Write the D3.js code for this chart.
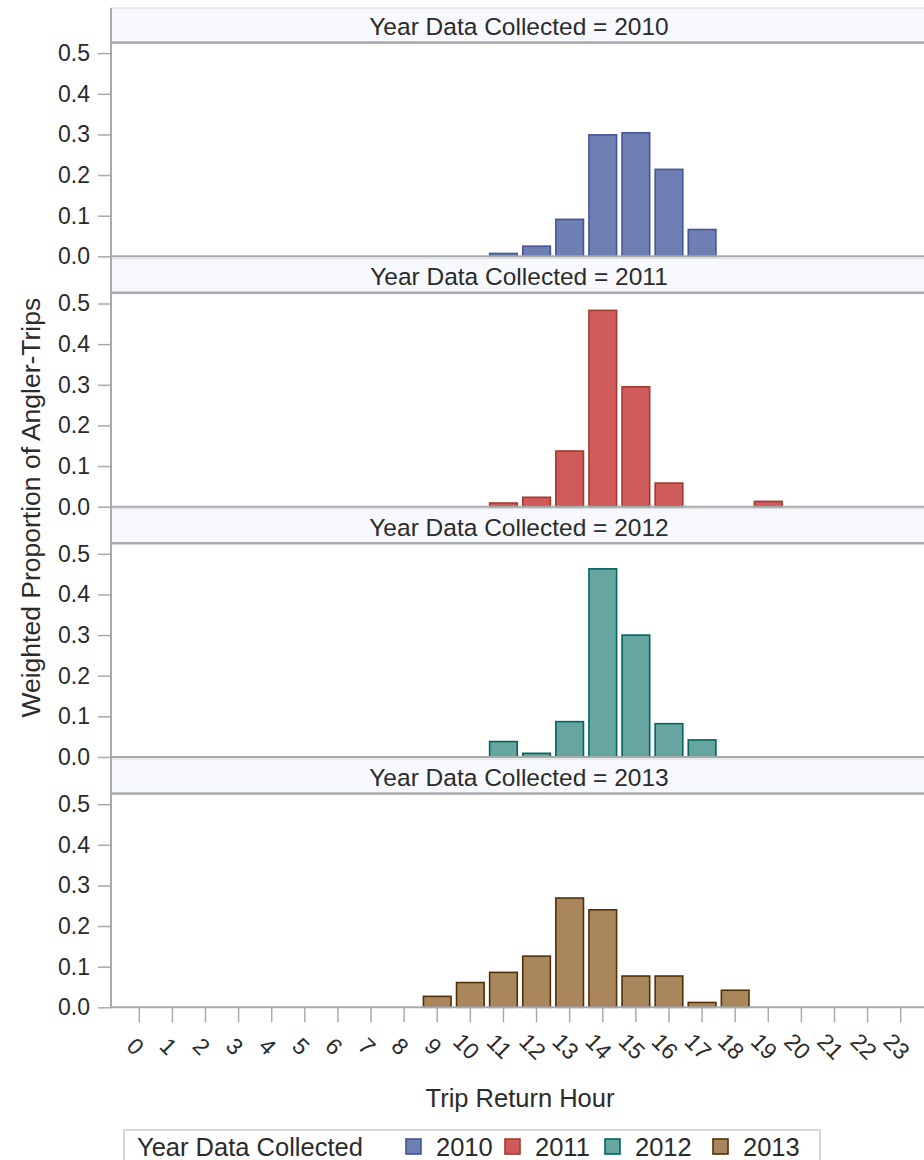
<!DOCTYPE html>
<html>
<head>
<meta charset="utf-8">
<script src="https://cdn.jsdelivr.net/npm/d3@7"></script>
<style>
  html, body { margin: 0; padding: 0; background: #fff; }
  svg { display: block; font-family: "Liberation Sans", Arial, sans-serif; }
</style>
</head>
<body>
<svg id="chart" width="924" height="1160"></svg>
<script>
// ---------- data ----------
const hourLabels = ["0","1","2","3","4","5","6","7","8","9","10","11","12","13","14","15","16","17","18","19","20","21","22","23"];
const years = ["2010", "2011", "2012", "2013"];
const yTicks = [0.0, 0.1, 0.2, 0.3, 0.4, 0.5];

const hours2010 = ["11","12","13","14","15","16","17"];
const vals2010  = [0.007, 0.025, 0.091, 0.299, 0.304, 0.214, 0.066];
const hours2011 = ["11","12","13","14","15","16","19"];
const vals2011  = [0.009, 0.023, 0.137, 0.483, 0.295, 0.058, 0.013];
const hours2012 = ["11","12","13","14","15","16","17"];
const vals2012  = [0.038, 0.009, 0.087, 0.463, 0.300, 0.082, 0.042];
const hours2013 = ["9","10","11","12","13","14","15","16","17","18"];
const vals2013  = [0.027, 0.061, 0.086, 0.126, 0.269, 0.240, 0.077, 0.077, 0.012, 0.042];

const fills   = ["#6F7EB3", "#D05B5B", "#66A5A0", "#A9865B"];
const strokes = ["#445694", "#A23A2E", "#01665E", "#543005"];

const series = [
  { year: years[0], hours: hours2010, vals: vals2010 },
  { year: years[1], hours: hours2011, vals: vals2011 },
  { year: years[2], hours: hours2012, vals: vals2012 },
  { year: years[3], hours: hours2013, vals: vals2013 }
];

// ---------- layout ----------
const svg = d3.select("#chart");
const left = 111, right = 929;
const top0 = 8, cellH = 250.33, headerH = 35;
const textColor = "#2b2b2b";
const axisColor = "#a7abae";

const x = d3.scaleBand().domain(hourLabels).range([left, right])
  .paddingInner(0.12).paddingOuter(0.415);

series.forEach((s, i) => {
  const ct = top0 + i * cellH;
  const plotTop = ct + headerH;
  const plotBottom = ct + cellH - 2;
  const y = d3.scaleLinear().domain([0, 0.525]).range([plotBottom, plotTop]);
  const g = svg.append("g");

  // header
  g.append("rect").attr("x", left).attr("y", ct).attr("width", right - left).attr("height", headerH)
    .attr("fill", "#f8f9fe").attr("stroke", "#d6d8da").attr("stroke-width", 1);
  g.append("line").attr("x1", left).attr("x2", right).attr("y1", ct + headerH - 0.5).attr("y2", ct + headerH - 0.5)
    .attr("stroke", axisColor).attr("stroke-width", 2.5);
  g.append("text").attr("x", (left + right) / 2 - 1).attr("y", ct + headerH / 2 + 1)
    .attr("text-anchor", "middle").attr("dominant-baseline", "central")
    .attr("font-size", 24.5).attr("fill", textColor)
    .text("Year Data Collected = " + s.year);

  // bars
  g.selectAll("rect.bar").data(s.hours.map((h, k) => ({ h, v: s.vals[k] })))
    .enter().append("rect").attr("class", "bar")
    .attr("x", d => x(d.h) + 0.75)
    .attr("width", x.bandwidth() - 1.5)
    .attr("y", d => y(d.v))
    .attr("height", d => y(0) - y(d.v))
    .attr("fill", fills[i]).attr("stroke", strokes[i]).attr("stroke-width", 1.6);

  // y axis
  const ya = g.append("g").attr("transform", `translate(${left},0)`)
    .call(d3.axisLeft(y).tickValues(yTicks).tickFormat(d3.format(".1f")).tickSize(13).tickPadding(8));
  ya.select(".domain").remove();
  ya.selectAll(".tick line").attr("stroke", axisColor).attr("stroke-width", 1.5);
  ya.selectAll(".tick text").attr("font-size", 23).attr("fill", textColor)
    .attr("font-family", "'Liberation Sans', Arial, sans-serif");

  // baseline
  g.append("line").attr("x1", left).attr("x2", right).attr("y1", y(0)).attr("y2", y(0))
    .attr("stroke", axisColor).attr("stroke-width", 2);
});

// left vertical border across all cells
const lastBottom = top0 + 3 * cellH + cellH - 2;
svg.append("line").attr("x1", left).attr("x2", left).attr("y1", top0).attr("y2", lastBottom)
  .attr("stroke", axisColor).attr("stroke-width", 2);

// x axis (bottom)
const xa = svg.append("g").attr("transform", `translate(0,${lastBottom})`)
  .call(d3.axisBottom(x).tickSize(15).tickFormat(""));
xa.select(".domain").remove();
xa.selectAll(".tick line").attr("stroke", axisColor).attr("stroke-width", 1.5);

svg.append("g").selectAll("text").data(hourLabels).enter().append("text")
  .attr("transform", d => `translate(${x(d) + x.bandwidth() / 2 - 4},${lastBottom + 39}) rotate(45)`)
  .attr("text-anchor", "middle").attr("dominant-baseline", "central")
  .attr("font-size", 23).attr("fill", textColor)
  .text(d => d);

// axis titles
svg.append("text").attr("x", (left + right) / 2).attr("y", 1107)
  .attr("text-anchor", "middle").attr("font-size", 25.5).attr("fill", textColor)
  .text("Trip Return Hour");
svg.append("text").attr("transform", `translate(31,${(top0 + lastBottom) / 2}) rotate(-90)`)
  .attr("text-anchor", "middle").attr("dominant-baseline", "central")
  .attr("font-size", 26.5).attr("fill", textColor)
  .text("Weighted Proportion of Angler-Trips");

// legend
const lg = svg.append("g");
lg.append("rect").attr("x", 124).attr("y", 1130).attr("width", 696).attr("height", 45)
  .attr("fill", "#fff").attr("stroke", "#c8cacc").attr("stroke-width", 1.5);
lg.append("text").attr("x", 137).attr("y", 1156).attr("font-size", 25.5).attr("fill", textColor)
  .text("Year Data Collected");
const legX = [406, 505, 605, 713];
years.forEach((yr, i) => {
  lg.append("rect").attr("x", legX[i]).attr("y", 1139).attr("width", 15).attr("height", 15)
    .attr("fill", fills[i]).attr("stroke", strokes[i]).attr("stroke-width", 1.6);
  lg.append("text").attr("x", legX[i] + 30).attr("y", 1156).attr("font-size", 25.5).attr("fill", textColor)
    .text(yr);
});
</script>
</body>
</html>
